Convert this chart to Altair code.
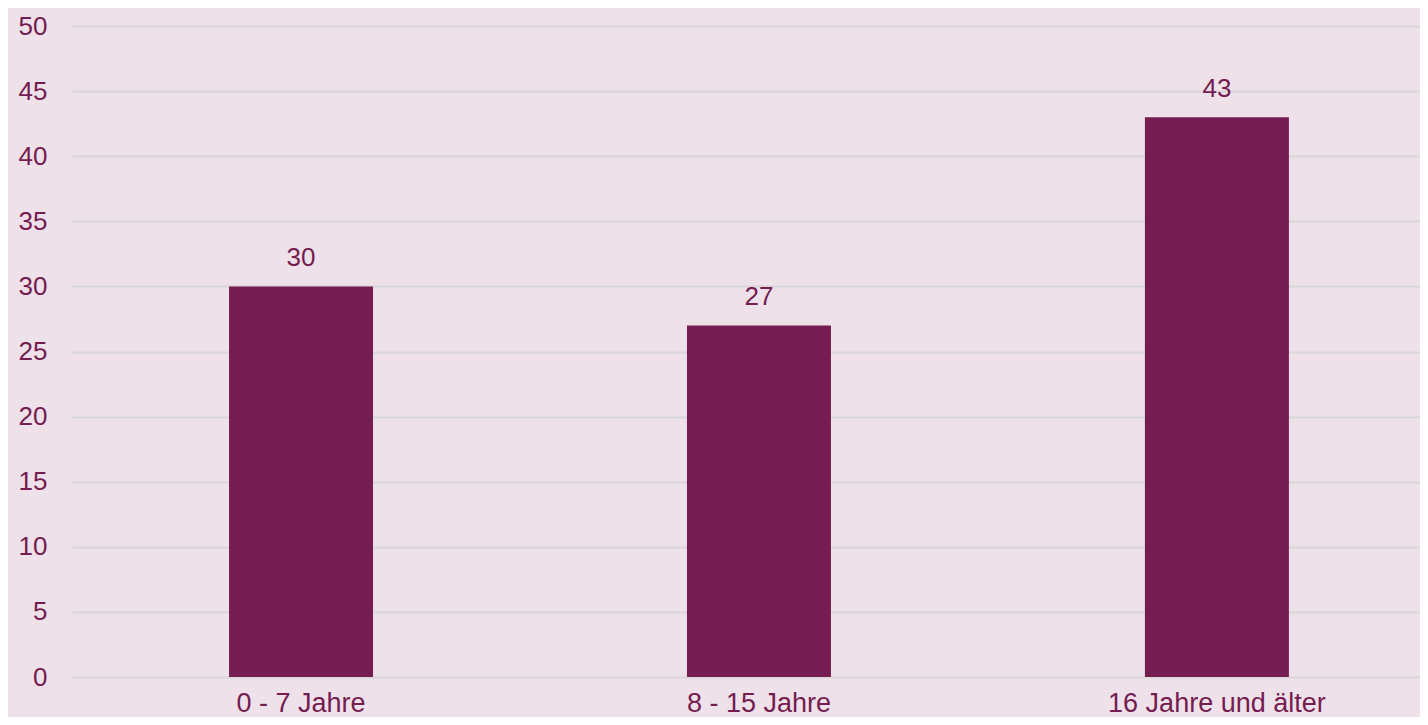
import altair as alt
import pandas as pd

categories = ["0 - 7 Jahre", "8 - 15 Jahre", "16 Jahre und älter"]
values = [30, 27, 43]

df = pd.DataFrame({"Kategorie": categories, "Wert": values})

PURPLE = "#751C50"
BG = "#EEE1EA"
GRID = "#D8D6D8"
FONT = "Liberation Sans"

x = alt.X(
    "Kategorie:N",
    sort=categories,
    scale=alt.Scale(paddingInner=0.6856, paddingOuter=0.3146, align=0.545),
    axis=alt.Axis(
        title=None, labelAngle=0, labelFontSize=27, labelColor=PURPLE,
        labelFont=FONT, ticks=False, domain=False, grid=False, labelPadding=13,
        labelLimit=0,
    ),
)
y = alt.Y(
    "Wert:Q",
    scale=alt.Scale(domain=[0, 50], nice=False),
    axis=alt.Axis(
        title=None, values=list(range(0, 55, 5)), labelFontSize=26,
        labelColor=PURPLE, labelFont=FONT, ticks=False, domain=False,
        grid=True, gridColor=GRID, gridWidth=2, labelPadding=25,
    ),
)

bars = alt.Chart(df).mark_bar(color=PURPLE).encode(x=x, y=y)
labels = alt.Chart(df).mark_text(
    color=PURPLE, fontSize=26, font=FONT, dy=-20, baseline="alphabetic"
).encode(x=x, y=y, text="Wert:Q")

chart = (bars + labels).properties(
    width=1348,
    height=651,
    background=BG,
    autosize=alt.AutoSizeParams(type="none"),
    padding={"left": 64, "top": 18, "right": 0, "bottom": 40},
).configure_view(stroke=None)

chart.save("out.html", embed_options={"renderer": "svg", "actions": False})
